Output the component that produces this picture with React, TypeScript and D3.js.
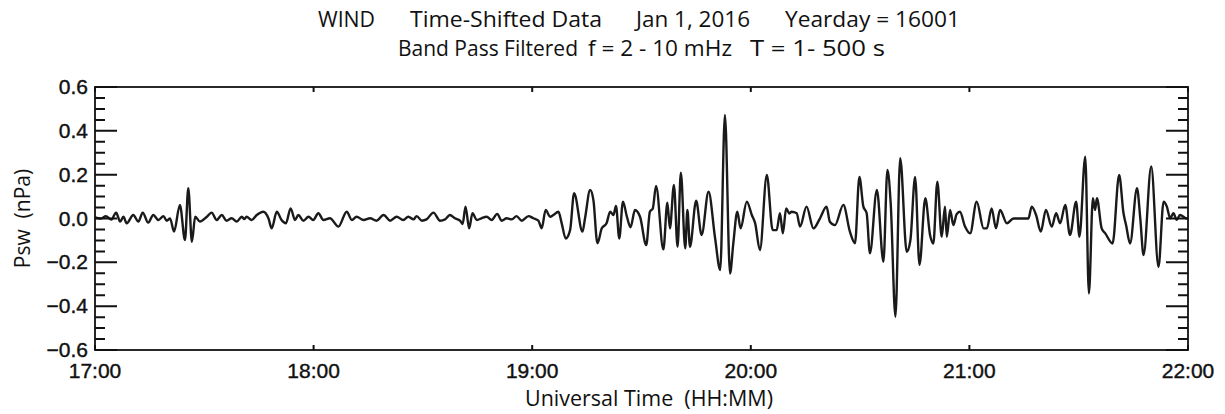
import React from "react";
import * as d3 from "d3";

// ---------- data ----------
const title1Parts = ["WIND", "Time-Shifted Data", "Jan 1, 2016", "Yearday = 16001"];
const title2Parts = ["Band Pass Filtered", "f = 2 - 10 mHz", "T = 1- 500 s"];
const xAxisTitle = "Universal Time  (HH:MM)";
const yAxisTitle = "Psw  (nPa)";
const hourTicks = [17, 18, 19, 20, 21, 22];
const hourLabels = ["17:00", "18:00", "19:00", "20:00", "21:00", "22:00"];
const yMajorTicks = [-0.6, -0.4, -0.2, 0.0, 0.2, 0.4, 0.6];
const yMinorTicks = [-0.55, -0.5, -0.45, -0.35, -0.3, -0.25, -0.15, -0.1, -0.05, 0.05, 0.1, 0.15, 0.25, 0.3, 0.35, 0.45, 0.5, 0.55];

// minutes after 17:00 UT
const minutes = [
  0, 1.5, 3, 4.5, 5.8, 6.9, 7.8, 8.7, 10.5, 11.9, 13.1, 14.6, 16.0, 17.4, 18.8, 19.7, 20.6,
  21.7, 23.3, 24.7, 25.6, 26.6, 27.5, 28.8, 30.7, 32.0, 33.4, 34.8, 36.1, 37.5, 38.9, 40.3,
  41.0, 41.6, 43.0, 44.4, 46.2, 47.6, 48.5, 49.9, 51.2, 52.4, 53.7, 54.9, 55.8, 57.2, 58.6,
  59.9, 61.3, 62.7, 64.5, 66.8, 69.1, 70.5, 71.8, 73.7, 75.5, 77.3, 79.2, 81.0, 82.8,
  84.6, 86.0, 87.4, 88.3, 89.7, 91.0, 92.9, 94.7, 96.1, 97.4, 98.8, 100.2, 100.9, 101.7,
  102.7, 103.6, 104.8, 106.1, 107.5, 108.9, 110.4, 111.6, 113.0, 114.4, 115.7, 117.1,
  119.0, 120.3, 121.7, 122.6, 123.7, 124.9, 125.8, 127.2, 128.1, 129.2, 130.4, 131.5,
  133.8, 134.5, 135.9, 136.8, 137.9, 139.1, 140.4, 141.4, 142.3, 143.0, 143.9, 144.9,
  146.0, 147.0, 148.2, 149.6, 151.3, 152.3, 153.1, 154.0, 156.0, 157.1, 157.8, 158.9,
  159.9, 160.8, 162.0, 162.6, 163.3, 165.0, 166.5, 168.4, 170.2, 171.6, 172.9, 174.3,
  175.2, 176.3, 177.2, 178.9, 180.3, 181.2, 182.5, 184.4, 186.0, 187.1, 188.0, 188.8,
  189.7, 190.6, 191.2, 192.6, 193.5, 195.3, 197.2, 199.0, 200.8, 201.7, 203.1, 205.4,
  207.2, 208.6, 209.8, 210.9, 211.8, 212.7, 214.6, 216.4, 217.5, 218.4, 219.7, 221.0,
  222.8, 223.8, 225.1, 226.3, 227.9, 229.2, 230.1, 231.2, 232.4, 233.3, 233.8, 234.7,
  235.6, 236.5, 237.4, 238.8, 240.2, 242.0, 243.9, 244.8, 246.1, 247.3, 248.4, 250.3,
  252.1, 256.2, 257.1, 258.3, 259.6, 261.0, 262.6, 263.8, 264.9, 266.3, 267.6, 269.3,
  270.2, 271.8, 272.8, 273.9, 274.5, 275.0, 276.3, 277.3, 279.3, 281.1, 282.3, 283.0,
  284.1, 286.0, 286.9, 287.8, 289.9, 291.9, 293.3, 294.2, 295.1, 296.0, 296.9, 297.8,
  299.7, 300
];

const psw = [
  0.005, 0.0, 0.01, -0.005, 0.027, -0.014, 0.008, -0.022, 0.016, -0.014, 0.027, -0.019, 0.016, -0.007, 0.011, -0.01, 0.0,
  -0.06, 0.062, -0.098, 0.138, -0.106, 0.008, -0.014, 0.008, 0.027, -0.007, 0.016, -0.01, 0.001, -0.014, 0.008,
  -0.003, 0.008, -0.007, 0.016, 0.031, 0.001, -0.045, 0.031, -0.007, -0.022, 0.046, -0.007,
  0.016, -0.01, 0.008, -0.007, 0.024, -0.007, 0.001, -0.037, 0.031, -0.007, 0.008, -0.007, 0.001, -0.01, 0.016, -0.01, 0.008,
  -0.007, 0.008, -0.004, 0.011, -0.01, -0.004, 0.027, -0.01, -0.004, 0.016, 0.001, -0.01, -0.025, 0.054,
  -0.045, 0.024, -0.007, 0.001, 0.008, -0.007, 0.021, -0.01, 0.001, -0.004, 0.011, -0.01,
  0.011, 0.001, -0.01, -0.045, 0.039, 0.008, 0.016, 0.031, -0.022, -0.091, -0.053, 0.115,
  -0.06, 0.001, 0.13, 0.084, -0.113, -0.045, -0.022, 0.031, 0.016, 0.057, -0.091, 0.077,
  0.008, -0.04, 0.039, 0.008, -0.121, 0.031, 0.046, 0.148, -0.141, 0.072, -0.045, 0.153,
  -0.129, 0.209, -0.136, 0.039, -0.129, 0.081, -0.075, 0.122, -0.09, -0.235, 0.472, -0.251,
  -0.114, 0.031, -0.045, 0.077, 0.015, -0.022, -0.144, 0.199, -0.053, -0.053, 0.024, -0.068,
  0.046, 0.023, 0.031, 0.024, -0.037, 0.054, -0.045, 0.001, 0.054, -0.015, -0.03, 0.062,
  -0.06, -0.113, 0.19, 0.054, 0.024, -0.159, 0.13, -0.197, 0.221, 0.069, -0.448, 0.275,
  -0.152, -0.099, 0.19, -0.212, 0.093, -0.075, -0.114, 0.168, -0.083, 0.054, -0.083, 0.039,
  -0.03, 0.02, 0.031, -0.037, -0.068, 0.077, -0.045, -0.045, 0.046, -0.045, 0.039, -0.022,
  0.0, 0.0, 0.054, 0.016, -0.06, 0.039, -0.037, 0.024, -0.022, 0.062, -0.075, 0.077,
  -0.083, 0.282, -0.342, 0.093, 0.039, 0.093, -0.045, -0.068, -0.114, 0.199, 0.024, -0.03,
  -0.114, 0.138, 0.001, -0.167, 0.237, -0.221, 0.077, 0.054, 0.001, 0.024, -0.006, 0.016,
  0.0, 0.0
];

// ---------- layout ----------
const W = 1225;
const H = 414;
const plotL = 95;
const plotR = 1188;
const plotT = 87;
const plotB = 350;

export default function App() {
  const x = d3.scaleLinear().domain([17, 22]).range([plotL, plotR]);
  const y = d3.scaleLinear().domain([-0.6, 0.6]).range([plotB, plotT]);

  const points: [number, number][] = minutes.map((m, i) => [17 + m / 60, psw[i]]);
  const line = d3
    .line<[number, number]>()
    .x((d) => x(d[0]))
    .y((d) => y(d[1]))
    .curve(d3.curveMonotoneX);
  const pathD = line(points) || "";

  // tick path: all ticks as one path so they are clearly drawn
  const tickSegs: string[] = [];
  yMajorTicks.forEach((v) => {
    const yy = y(v);
    tickSegs.push(`M${plotL},${yy}H${plotL + 22}`);
    tickSegs.push(`M${plotR},${yy}H${plotR - 22}`);
  });
  yMinorTicks.forEach((v) => {
    const yy = y(v);
    tickSegs.push(`M${plotL},${yy}H${plotL + 10}`);
    tickSegs.push(`M${plotR},${yy}H${plotR - 10}`);
  });
  hourTicks.forEach((h) => {
    const xx = x(h);
    tickSegs.push(`M${xx},${plotB}V${plotB - 5}`);
    tickSegs.push(`M${xx},${plotT}V${plotT + 5}`);
  });
  const tickD = tickSegs.join("");

  const tickFont = "'Liberation Sans', Arial, Helvetica, sans-serif";
  const titleFont = "'Open Sans', 'Noto Sans', sans-serif";

  const t1x = [318, 410, 636, 785];
  const t1len = [57, 192, 114, 175];
  const t2x = [398, 588, 750];
  const t2len = [180, 144, 135];

  return (
    <svg
      width={W}
      height={H}
      viewBox={`0 0 ${W} ${H}`}
      style={{ position: "absolute", left: 0, top: 0, background: "#fff", display: "block" }}
    >
      <rect x={0} y={0} width={W} height={H} fill="#fff" />
      {/* titles */}
      <g fontFamily={titleFont} fontSize={21} fill="#111">
        {title1Parts.map((t, i) => (
          <text key={"t1" + i} x={t1x[i]} y={27} textLength={t1len[i]} lengthAdjust="spacingAndGlyphs">
            {t}
          </text>
        ))}
        {title2Parts.map((t, i) => (
          <text key={"t2" + i} x={t2x[i]} y={56} textLength={t2len[i]} lengthAdjust="spacingAndGlyphs">
            {t}
          </text>
        ))}
      </g>

      {/* data line */}
      <defs>
        <clipPath id="plotclip">
          <rect x={plotL} y={plotT} width={plotR - plotL} height={plotB - plotT} />
        </clipPath>
      </defs>
      <path d={pathD} fill="none" stroke="#1a1a1a" strokeWidth={2.4} strokeLinejoin="round" clipPath="url(#plotclip)" />

      {/* frame */}
      <rect x={plotL} y={plotT} width={plotR - plotL} height={plotB - plotT} fill="none" stroke="#111" strokeWidth={1.8} />

      {/* ticks */}
      <path d={tickD} fill="none" stroke="#111" strokeWidth={2} />

      {/* y tick labels */}
      <g fontFamily={tickFont} fontSize={21} fill="#111" stroke="#111" strokeWidth={0.4} textAnchor="end">
        {yMajorTicks.map((v) => (
          <text key={"yl" + v} x={88} y={y(v) + 7}>
            {(v < 0 ? "\u2212" : "") + Math.abs(v).toFixed(1)}
          </text>
        ))}
      </g>

      {/* x tick labels */}
      <g fontFamily={tickFont} fontSize={21} fill="#111" stroke="#111" strokeWidth={0.4} textAnchor="middle">
        {hourTicks.map((h, i) => (
          <text key={"xl" + h} x={x(h)} y={378}>
            {hourLabels[i]}
          </text>
        ))}
      </g>

      {/* axis titles */}
      <text
        x={525}
        y={406}
        fontFamily={titleFont}
        fontSize={21}
        fill="#111"
        textLength={248}
        lengthAdjust="spacingAndGlyphs"
        style={{ whiteSpace: "pre" }}
      >
        {xAxisTitle}
      </text>
      <text
        transform={`translate(30, ${(plotT + plotB) / 2}) rotate(-90)`}
        textAnchor="middle"
        fontFamily={titleFont}
        fontSize={21}
        fill="#111"
        style={{ whiteSpace: "pre" }}
      >
        {yAxisTitle}
      </text>
    </svg>
  );
}
